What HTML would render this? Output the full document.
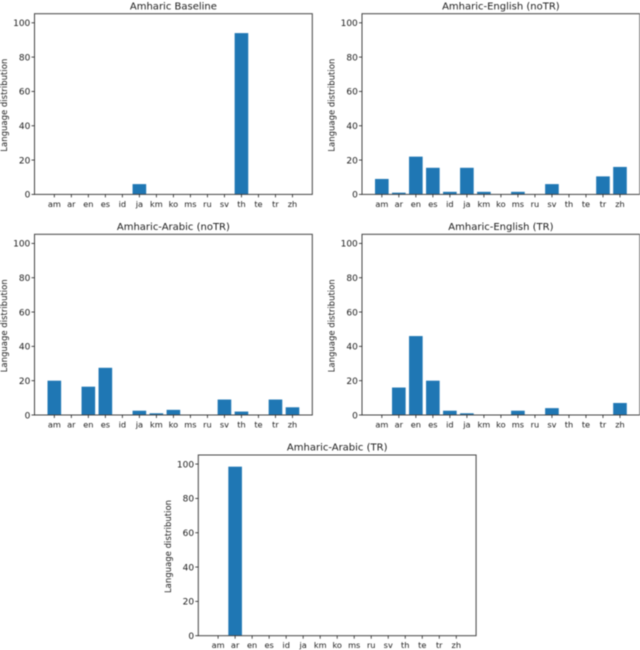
<!DOCTYPE html>
<html>
<head>
<meta charset="utf-8">
<style>
html,body{margin:0;padding:0;background:#fff;width:640px;height:650px;overflow:hidden}
svg{display:block;filter:blur(0.5px)}
text{font-family:"DejaVu Sans","Liberation Sans",sans-serif;fill:#1c1c1c}
.tick{font-size:9px}
.xtick{font-size:8.2px}
.ylab{font-size:8.5px}
.title{font-size:10px}
</style>
</head>
<body>
<svg id="figure" width="640" height="650" viewBox="0 0 640 650" xmlns="http://www.w3.org/2000/svg"></svg>
<script>
const categories = ['am','ar','en','es','id','ja','km','ko','ms','ru','sv','th','te','tr','zh'];
const yTicks = [0,20,40,60,80,100];
const yAxisLabel = 'Language distribution';
const titleBaseline = 'Amharic Baseline';
const titleEnNoTR = 'Amharic-English (noTR)';
const titleArNoTR = 'Amharic-Arabic (noTR)';
const titleEnTR = 'Amharic-English (TR)';
const titleArTR = 'Amharic-Arabic (TR)';
const valuesBaseline = [0,0,0,0,0,6,0,0,0,0,0,94,0,0,0];
const valuesEnNoTR = [9,1,22,15.5,1.5,15.5,1.5,0,1.5,0,6,0,0,10.5,16];
const valuesArNoTR = [20,0,16.5,27.5,0,2.5,1,3,0,0,9,2,0,9,4.5];
const valuesEnTR = [0,16,46,20,2.5,1,0,0,2.5,0,4,0,0,0,7];
const valuesArTR = [0,98.5,0,0,0,0,0,0,0,0,0,0,0,0,0];

const NS = 'http://www.w3.org/2000/svg';
const fig = document.getElementById('figure');
const Y_MAX = 105.3;
const AX_W = 277.8;
const AX_H = 180.7;
const BAR_COLOR = '#1f77b4';
const SPINE = '#444';

function el(tag, attrs, parent, txt){
  const e = document.createElementNS(NS, tag);
  for (const k in attrs) e.setAttribute(k, attrs[k]);
  if (txt !== undefined) e.textContent = txt;
  parent.appendChild(e);
  return e;
}

function panel(slug, title, values, left, top){
  const bottom = top + AX_H;
  const n = categories.length;
  const step = AX_W / (n - 1 + 2 * 1.165);
  const xScale = i => left + step * (1.165 + i);
  const yScale = v => bottom - (v / Y_MAX) * AX_H;
  const barW = step * 0.8;

  const g = el('g', {}, fig);
  
  

  values.forEach((v, i) => {
    if (v <= 0) return;
    const bar = el('rect', {x: xScale(i) - barW / 2, y: yScale(v), width: barW, height: bottom - yScale(v), fill: BAR_COLOR}, g);
    
    
  });

  const frame = el('rect', {x: left, y: top, width: AX_W, height: AX_H, fill: 'none', stroke: SPINE, 'stroke-width': 1}, g);
  
  

  categories.forEach((c, i) => {
    const x = xScale(i);
    const t = el('line', {x1: x, x2: x, y1: bottom, y2: bottom + 3, stroke: '#222', 'stroke-width': 0.8}, g);
    
    
    const l = el('text', {x: x, y: bottom + 12.4, 'text-anchor': 'middle', class: 'xtick'}, g, c);
    
    
  });

  yTicks.forEach(v => {
    const y = yScale(v);
    const t = el('line', {x1: left - 3, x2: left, y1: y, y2: y, stroke: '#222', 'stroke-width': 0.8}, g);
    
    
    const l = el('text', {x: left - 4.2, y: y + 3.3, 'text-anchor': 'end', class: 'tick'}, g, String(v));
    
    
  });

  const ylx = left - 27.5;
  const yly = top + 91.5;
  const ty = el('text', {x: ylx, y: yly, 'text-anchor': 'middle', class: 'ylab', transform: 'rotate(-90 ' + ylx + ' ' + yly + ')'}, g, yAxisLabel);
  
  

  const tt = el('text', {x: left + AX_W / 2, y: top - 4.4, 'text-anchor': 'middle', class: 'title'}, g, title);
  
  
}

panel('amharic-baseline', titleBaseline, valuesBaseline, 34.5, 13.7);
panel('amharic-english-notr', titleEnNoTR, valuesEnNoTR, 362, 13.7);
panel('amharic-arabic-notr', titleArNoTR, valuesArNoTR, 34.5, 234.3);
panel('amharic-english-tr', titleEnTR, valuesEnTR, 362, 234.3);
panel('amharic-arabic-tr', titleArTR, valuesArTR, 198.3, 455);
</script>
</body>
</html>
